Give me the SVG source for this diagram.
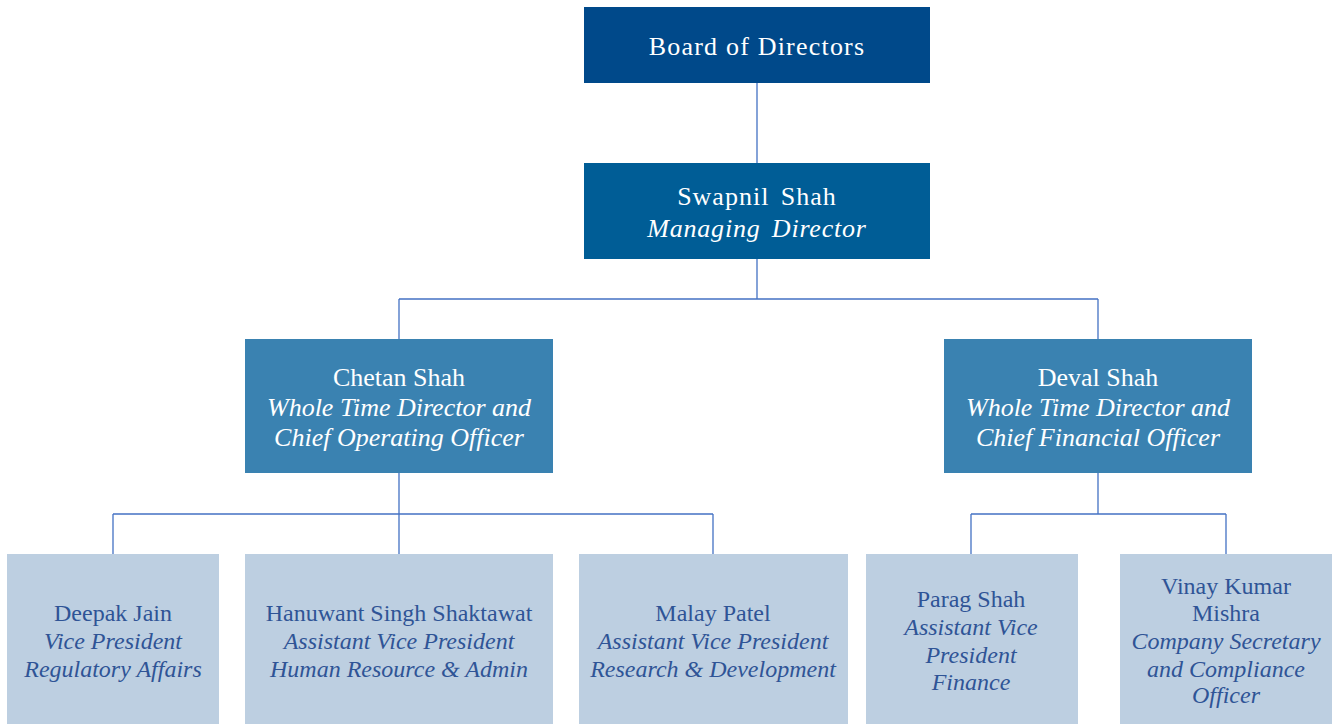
<svg xmlns="http://www.w3.org/2000/svg" width="1339" height="724" viewBox="0 0 1339 724" font-family="'Liberation Serif', 'Times New Roman', Tinos, 'DejaVu Serif', serif">
<style>
text{font-family:'Liberation Serif','Times New Roman',Tinos,'DejaVu Serif',serif;text-anchor:middle}
.w{fill:#ffffff;font-size:26px}
.b{fill:#2F5496;font-size:24px}
.i{font-style:italic}
.c{stroke:#4472C4;stroke-width:1.3;fill:none}
</style>
<rect width="1339" height="724" fill="#ffffff"/>
<g id="connectors">
<path class="c" d="M757 83V163M757 259V299M399 299H1098M399 299V339M1098 299V339"/>
<path class="c" d="M399 473V514M113 514H713M113 514V554M399 514V554M713 514V554"/>
<path class="c" d="M1098 473V514M971 514H1226M971 514V554M1226 514V554"/>
</g>
<g id="board">
<rect x="584" y="7" width="346" height="76" fill="#00498A"/>
<text class="w" x="757" y="55" font-size="27" letter-spacing="1.2">Board of Directors</text>
</g>
<g id="swapnil">
<rect x="584" y="163" width="346" height="96" fill="#005D96"/>
<text class="w" x="757" y="205" letter-spacing="1" word-spacing="4">Swapnil Shah</text>
<text class="w i" x="757" y="236.5" letter-spacing="0.8" word-spacing="4">Managing Director</text>
</g>
<g id="chetan">
<rect x="245" y="339" width="308" height="134" fill="#3A82B1"/>
<text class="w" x="399" y="385.5">Chetan Shah</text>
<text class="w i" x="399" y="415.5">Whole Time Director and</text>
<text class="w i" x="399" y="445.5">Chief Operating Officer</text>
</g>
<g id="deval">
<rect x="944" y="339" width="308" height="134" fill="#3A82B1"/>
<text class="w" x="1098" y="385.5">Deval Shah</text>
<text class="w i" x="1098" y="415.5">Whole Time Director and</text>
<text class="w i" x="1098" y="445.5">Chief Financial Officer</text>
</g>
<g id="deepak">
<rect x="7" y="554" width="212" height="170" fill="#BDCFE1"/>
<text class="b" x="113" y="621">Deepak Jain</text>
<text class="b i" x="113" y="649">Vice President</text>
<text class="b i" x="113" y="677">Regulatory Affairs</text>
</g>
<g id="hanuwant">
<rect x="245" y="554" width="308" height="170" fill="#BDCFE1"/>
<text class="b" x="399" y="621">Hanuwant Singh Shaktawat</text>
<text class="b i" x="399" y="649">Assistant Vice President</text>
<text class="b i" x="399" y="677">Human Resource &amp; Admin</text>
</g>
<g id="malay">
<rect x="579" y="554" width="269" height="170" fill="#BDCFE1"/>
<text class="b" x="713" y="621">Malay Patel</text>
<text class="b i" x="713" y="649">Assistant Vice President</text>
<text class="b i" x="713" y="677">Research &amp; Development</text>
</g>
<g id="parag">
<rect x="866" y="554" width="212" height="170" fill="#BDCFE1"/>
<text class="b" x="971" y="607">Parag Shah</text>
<text class="b i" x="971" y="635">Assistant Vice</text>
<text class="b i" x="971" y="663">President</text>
<text class="b i" x="971" y="690">Finance</text>
</g>
<g id="vinay">
<rect x="1120" y="554" width="212" height="170" fill="#BDCFE1"/>
<text class="b" x="1226" y="594">Vinay Kumar</text>
<text class="b" x="1226" y="621">Mishra</text>
<text class="b i" x="1226" y="649">Company Secretary</text>
<text class="b i" x="1226" y="677">and Compliance</text>
<text class="b i" x="1226" y="703">Officer</text>
</g>
</svg>
